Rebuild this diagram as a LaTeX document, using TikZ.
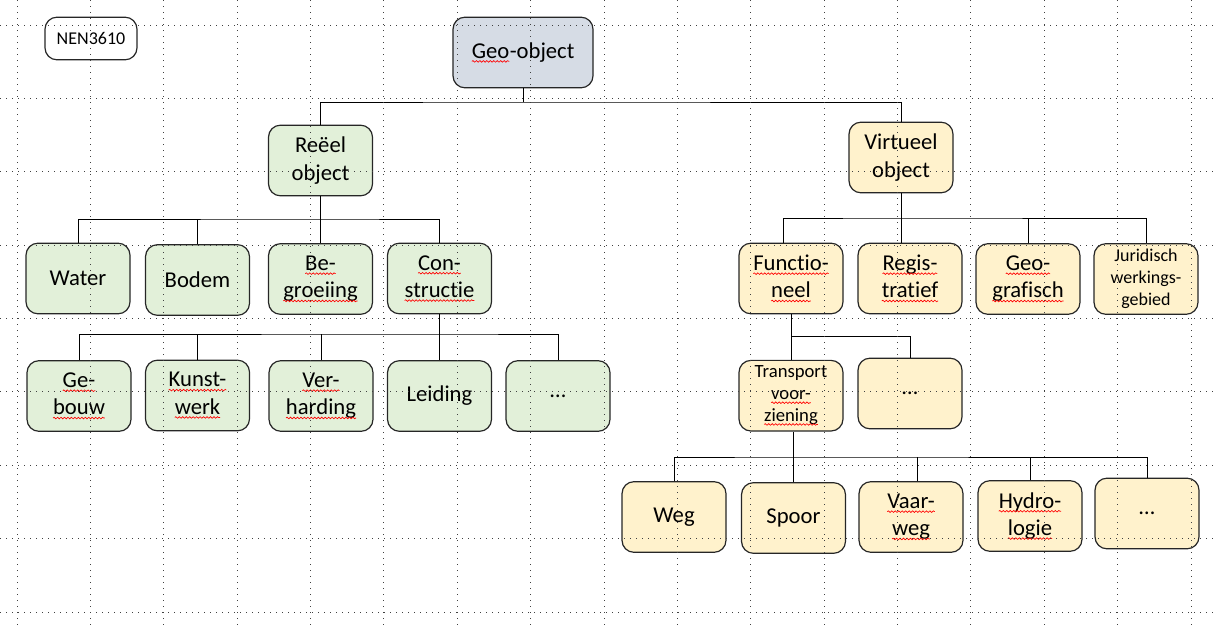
\documentclass[tikz,border=0pt]{standalone}
\usepackage{fontspec}
\setmainfont{Carlito}[Ligatures=NoCommon]
\usetikzlibrary{positioning}
\usetikzlibrary{decorations.pathmorphing}
\definecolor{geogray}{HTML}{D6DCE5}
\definecolor{reelgreen}{HTML}{E2F0D9}
\definecolor{virtyellow}{HTML}{FFF2CC}
\tikzset{
	every node/.style = {font=\fontsize{17}{20.5}\selectfont},
	box/.style = {draw=black!85, rounded corners=9pt, line width=0.9pt, minimum width=78pt, minimum height=53pt, inner sep=0pt, align=center},
	reel/.style = {box, fill=reelgreen},
	virt/.style = {box, fill=virtyellow},
	small/.style = {font=\fontsize{14}{16.3}\selectfont},
	link/.style = {line width=0.75pt},
	grid line/.style = {line width=0.75pt, black!75, dash pattern=on 0.75pt off 3.75pt},
	squiggle/.style = {red, line width=0.5pt, sharp corners, solid, decorate, decoration={snake, amplitude=0.6pt, segment length=2.6pt}}
}
% red spell-check wave under a word
\newcommand{\spell}[1]{\tikz[baseline=(w.base)]{\node[font={}, draw=none, fill=none, inner sep=0pt, outer sep=0pt, minimum size=0pt] (w) {#1};
	\draw[squiggle] ([yshift=-2.4pt]w.base west) -- ([yshift=-2.4pt]w.base east);}}

\begin{document}
\begin{tikzpicture}[x=0.75pt, y=-0.75pt]
		\useasboundingbox (0,0) rectangle (1215,628);
		% top
		\node[box, minimum width=69pt, minimum height=32pt, font=\fontsize{13.5}{16}\selectfont] (nen) at (91,38.5) {NEN3610};
		\node[box, fill=geogray, minimum width=105pt] (geo) at (523,52.5) {\spell{Geo}-object};
		\node[reel] (reeel) at (320.5,160.5) {Reëel\\object};
		\node[virt] (virtueel) at (901,157.5) {Virtueel\\object};
		% reeel object
		\node[reel] (water) at (78,278.5) {Water};
		\node[reel] (bodem) at (197.5,280) {Bodem};
		\node[reel] (groei) at (320.5,279) {\spell{Be-}\\\spell{groeiing}};
		\node[reel] (constr) at (439.5,278.5) {\spell{Con-}\\\spell{structie}};
		\node[reel] (gebouw) at (79,396) {\spell{Ge-}\\\spell{bouw}};
		\node[reel] (kunst) at (197.5,395.5) {\spell{Kunst-}\\\spell{werk}};
		\node[reel] (verh) at (321,396) {\spell{Ver-}\\\spell{harding}};
		\node[reel] (leiding) at (439.5,396) {Leiding};
		\node[reel] (etcl) at (558,396) {…};
		% virtueel object
		\node[virt] (func) at (791,278.5) {\spell{Functio-}\\\spell{neel}};
		\node[virt] (regis) at (910,278.5) {\spell{Regis-}\\\spell{tratief}};
		\node[virt] (geogr) at (1028,279) {\spell{Geo-}\\\spell{grafisch}};
		\node[virt, font=\fontsize{13.5}{16.3}\selectfont] (jur) at (1146,279) {Juridisch\\werkings-\\gebied};
		\node[virt, small] (trans) at (791,395.7) {Transport\\\spell{voor-}\\\spell{ziening}};
		\node[virt] (etcr) at (910,393.5) {…};
		\node[virt] (weg) at (674,517) {Weg};
		\node[virt] (spoor) at (793.5,518) {Spoor};
		\node[virt] (vaar) at (911,517) {\spell{Vaar-}\\\spell{weg}};
		\node[virt] (hydro) at (1030,516) {\spell{Hydro-}\\\spell{logie}};
		\node[virt] (etcv) at (1147,513.5) {…};
		% connectors
		\coordinate (top bus) at (523,102);
		\draw[link] (geo.south) -- (top bus);
		\draw[link] (reeel.north) |- (top bus) -| (virtueel.north);
		
		\coordinate (reel bus) at (320.5,219);
		\draw[link] (reeel.south) -- (groei.north);
		\draw[link] (water.north) |- (reel bus) -| (constr.north);
		\draw[link] (bodem.north) -- (bodem.north |- reel bus);
		
		\coordinate (constr bus) at (439.5,334);
		\draw[link] (constr.south) -- (leiding.north);
		\draw[link] (gebouw.north) |- (constr bus) -| (etcl.north);
		\foreach \n in {kunst, verh}
			\draw[link] (\n.north) -- (\n.north |- constr bus);
		
		\coordinate (virt bus) at (901,218);
		\draw[link] (virtueel.south) -- (virtueel.south |- regis.north);
		\draw[link] ([xshift=-6pt]func.north) |- (virt bus) -| (jur.north);
		\draw[link] (geogr.north) -- (geogr.north |- virt bus);
		
		\coordinate (func bus) at (791,336);
		\draw[link] (func.south) -- (trans.north);
		\draw[link] (func bus) -| (etcr.north);
		
		\coordinate (trans bus) at (793.5,457);
		\draw[link] (spoor.north) -- (spoor.north |- trans.south);
		\draw[link] (weg.north) |- (trans bus) -| (etcv.north);
		\draw[link] ([xshift=5pt]vaar.north) -- ([xshift=5pt]vaar.north |- trans bus);
		\draw[link] (hydro.north) -- (hydro.north |- trans bus);
		% grid
		\foreach \k in {0,...,16}
			\draw[grid line] (17+73.375*\k,0) -- (17+73.375*\k,628);
		\foreach \k in {0,...,8}
			\draw[grid line] (0,25+73.375*\k) -- (1215,25+73.375*\k);
\end{tikzpicture}
\end{document}
